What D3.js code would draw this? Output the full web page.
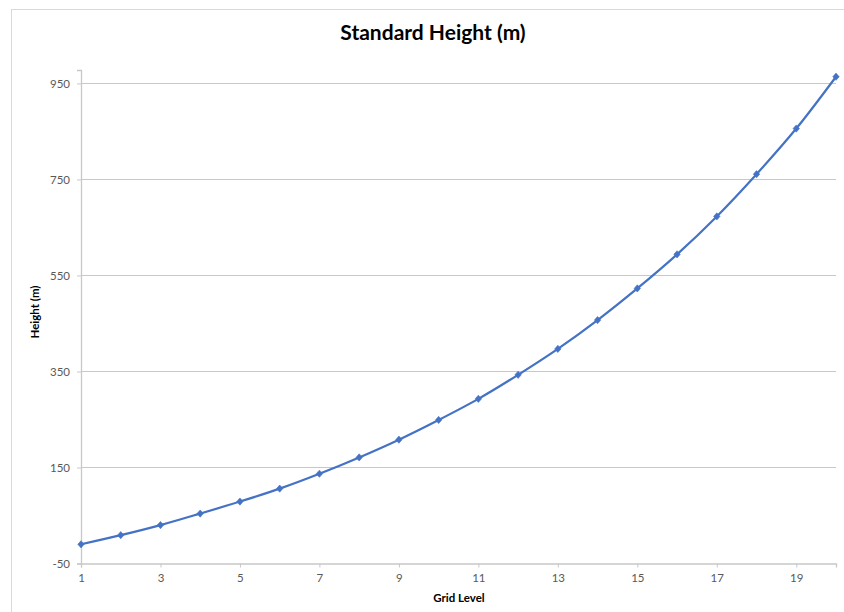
<!DOCTYPE html>
<html>
<head>
<meta charset="utf-8">
<script src="https://cdn.jsdelivr.net/npm/d3@7"></script>
<style>
  html, body { margin: 0; padding: 0; background: #ffffff; }
  svg { display: block; font-family: Lato, "Open Sans", sans-serif; }
</style>
</head>
<body>
<svg id="chart" width="844" height="612"></svg>
<script>
// Data
const gridLevels = [1, 2, 3, 4, 5, 6, 7, 8, 9, 10, 11, 12, 13, 14, 15, 16, 17, 18, 19, 20];
const heights = [-10, 9, 30, 54, 79, 106, 137, 171, 208, 249, 293, 343, 397, 457, 523, 594, 673, 761, 856, 964];
const yTicks = [-50, 150, 350, 550, 750, 950];
const xTicks = [1, 3, 5, 7, 9, 11, 13, 15, 17, 19];
const chartTitle = "Standard Height (m)";
const xTitle = "Grid Level";
const yTitle = "Height (m)";

const svg = d3.select("#chart");
const plot = { left: 81, right: 836, top: 70, bottom: 563.5 };

// chart border
svg.append("rect")
  .attr("x", 11.5).attr("y", 9.5)
  .attr("width", 900).attr("height", 700)
  .attr("fill", "none").attr("stroke", "#d9d9d9").attr("stroke-width", 1);

const x = d3.scaleLinear().domain([1, 20]).range([plot.left, plot.right]);
const y = d3.scaleLinear().domain([-50, 978]).range([plot.bottom, plot.top]);

// gridlines
svg.append("g")
  .selectAll("line")
  .data(yTicks.filter(d => d !== -50))
  .join("line")
  .attr("x1", plot.left).attr("x2", plot.right)
  .attr("y1", d => Math.round(y(d)) + 0.5).attr("y2", d => Math.round(y(d)) + 0.5)
  .attr("stroke", "#c8c8c8").attr("stroke-width", 1);

// y axis
const yAxis = svg.append("g")
  .attr("transform", `translate(${plot.left},0)`)
  .call(d3.axisLeft(y).tickValues(yTicks).tickSize(4).tickPadding(7).tickFormat(d => String(d)));
yAxis.select(".domain").attr("stroke", "#c8c8c8").attr("stroke-width", 1.3);
yAxis.selectAll(".tick line").attr("stroke", "#c8c8c8");
yAxis.selectAll(".tick text")
  .attr("fill", "#595959").style("font-size", "11.5px").style("font-family", "Lato, sans-serif");

// x axis
const xAxis = svg.append("g")
  .attr("transform", `translate(0,${plot.bottom})`)
  .call(d3.axisBottom(x).tickValues(xTicks).tickSize(4).tickPadding(6).tickFormat(d => String(d)));
xAxis.select(".domain").attr("stroke", "#c8c8c8").attr("stroke-width", 1.3);
xAxis.selectAll(".tick line").attr("stroke", "#c8c8c8");
xAxis.selectAll(".tick text")
  .attr("fill", "#595959").style("font-size", "11.5px").style("font-family", "Lato, sans-serif");

// line
const pts = gridLevels.map((g, i) => ({ g, h: heights[i] }));
const line = d3.line()
  .x(d => x(d.g)).y(d => y(d.h))
  .curve(d3.curveCatmullRom.alpha(0));
svg.append("path")
  .datum(pts)
  .attr("d", line)
  .attr("fill", "none")
  .attr("stroke", "#4472c4")
  .attr("stroke-width", 2.2)
  .attr("stroke-linejoin", "round");

// diamond markers
svg.append("g")
  .selectAll("path")
  .data(pts)
  .join("path")
  .attr("transform", d => `translate(${x(d.g)},${y(d.h)})`)
  .attr("d", "M0,-3.6L3.2,0L0,3.6L-3.2,0Z")
  .attr("fill", "#4472c4")
  .attr("stroke", "#4472c4")
  .attr("stroke-width", 0.6);

// titles
svg.append("text")
  .attr("x", 433).attr("y", 40)
  .attr("text-anchor", "middle")
  .style("font-size", "21px").style("font-weight", "bold")
  .attr("fill", "#000")
  .text(chartTitle);

svg.append("text")
  .attr("x", 459).attr("y", 602)
  .attr("text-anchor", "middle")
  .style("font-size", "11.5px").style("font-weight", "bold")
  .attr("fill", "#000")
  .text(xTitle);

svg.append("text")
  .attr("transform", "translate(39,312) rotate(-90)")
  .attr("text-anchor", "middle")
  .style("font-size", "11.5px").style("font-weight", "bold")
  .attr("fill", "#000")
  .text(yTitle);
</script>
</body>
</html>
